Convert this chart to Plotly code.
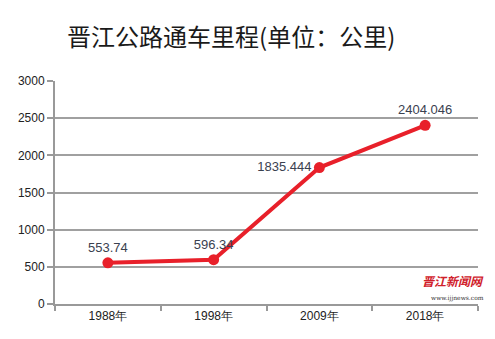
import plotly.graph_objects as go

years = ["1988年", "1998年", "2009年", "2018年"]
mileage = [553.74, 596.34, 1835.444, 2404.046]
labels = ["553.74", "596.34", "1835.444", "2404.046"]
label_pos = ["top center", "top center", "middle left", "top center"]
y_ticks = [0, 500, 1000, 1500, 2000, 2500, 3000]

fig = go.Figure()
fig.add_trace(go.Scatter(
    x=years, y=mileage, mode="lines+markers+text",
    line=dict(color="#e8202a", width=4),
    marker=dict(color="#e8202a", size=11),
    text=labels, textposition=label_pos,
    textfont=dict(family="Liberation Sans, Arial", size=13, color="#3a4150"),
    cliponaxis=False, showlegend=False,
))

fig.update_layout(
    width=495, height=339,
    margin=dict(l=55, r=17, t=81, b=35),
    paper_bgcolor="white", plot_bgcolor="white",
    title=dict(text="晋江公路通车里程(单位：公里)", x=0.467, xanchor="center",
               y=0.888, yanchor="middle",
               font=dict(family="Noto Sans CJK SC", size=24, color="#1a1a1a")),
    font=dict(family="Liberation Sans, Arial", size=12, color="#222"),
)
fig.update_xaxes(
    type="category", range=[-0.5, 3.5], tickson="boundaries",
    ticks="outside", ticklen=5, tickwidth=2, tickcolor="#999",
    showline=True, linecolor="#999", linewidth=2, showgrid=False,
    tickfont=dict(size=12, color="#222"),
)
fig.update_yaxes(
    range=[0, 3000], tickvals=y_ticks, ticks="outside", ticklen=6,
    tickwidth=1.5, tickcolor="#999",
    showgrid=True, gridcolor="#a0a0a0", gridwidth=1.5,
    showline=True, linecolor="#999", linewidth=2, zeroline=False,
    tickfont=dict(size=12, color="#222"),
)

fig.add_annotation(x=1.02, xref="paper", y=0.06, yref="paper", xanchor="right",
                   text="<i><b>晋江新闻网</b></i>", showarrow=False,
                   font=dict(family="Noto Sans CJK SC", size=12, color="#d0202a"))
fig.add_annotation(x=1.02, xref="paper", y=0.0, yref="paper", xanchor="right",
                   text="www.ijjnews.com", showarrow=False,
                   font=dict(family="DejaVu Serif", size=6, color="#333"))

fig.write_html("out.html")
